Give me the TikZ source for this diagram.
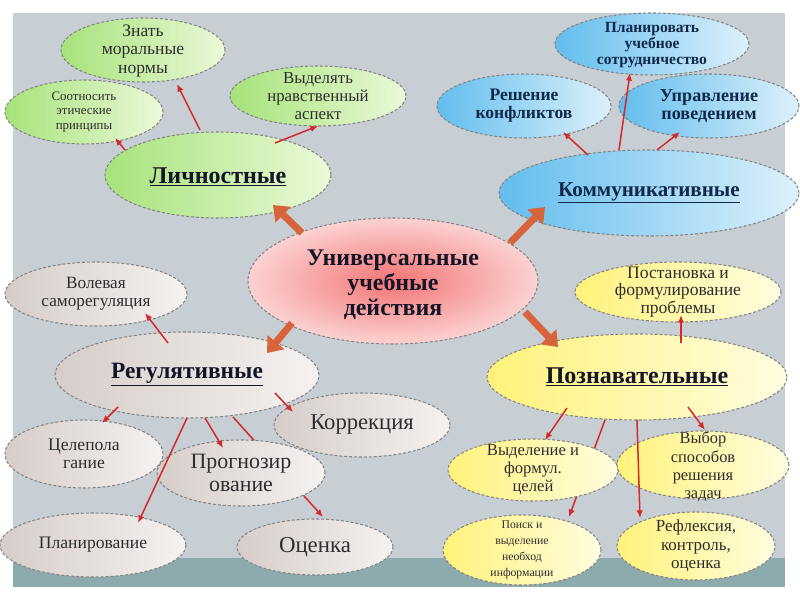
\documentclass[tikz,border=0pt]{standalone}
\usepackage{fontspec}
\setmainfont{Liberation Serif}
\usetikzlibrary{shapes.geometric,arrows.meta,calc}
\pgfdeclarelayer{bg}
\pgfdeclarelayer{behind}
\pgfsetlayers{bg,behind,main}
\definecolor{panel}{HTML}{C7CFD5}
\definecolor{strip}{HTML}{8DAAAD}
\definecolor{bord}{HTML}{858585}
\definecolor{gA}{HTML}{A6E37A}
\definecolor{gB}{HTML}{EBF9D8}
\definecolor{bA}{HTML}{62BDEE}
\definecolor{bB}{HTML}{DDF1FB}
\definecolor{rA}{HTML}{F27474}
\definecolor{rB}{HTML}{FCD2D2}
\definecolor{sA}{HTML}{D6CDC9}
\definecolor{sB}{HTML}{F5F2F0}
\definecolor{yA}{HTML}{FFF27A}
\definecolor{yB}{HTML}{FFFDE0}
\definecolor{redline}{HTML}{D42A2A}
\definecolor{thick}{HTML}{D8643C}
\definecolor{txgray}{HTML}{2E2E2E}
\definecolor{txdark}{HTML}{151528}
\definecolor{txblue}{HTML}{10294A}
\newcommand\fsz[2]{\fontsize{#1}{#2}\selectfont}
\begin{document}
\begin{tikzpicture}[x=0.03cm,y=-0.03cm,
  ell/.style n args={2}{ellipse, minimum width=#1*0.06cm, minimum height=#2*0.06cm,
     inner sep=0pt, draw=bord, dash pattern=on 2.6pt off 1.6pt, line width=0.9pt},
  gr/.style={left color=gA, right color=gB},
  bl/.style={left color=bA, right color=bB},
  rd/.style={inner color=rA, outer color=rB},
  gy/.style={left color=sA, right color=sB},
  yl/.style={left color=yA, right color=yB},
  txt/.style={align=center, inner sep=0pt, text=txgray},
  cat/.style={align=center, inner sep=0pt, text=txdark, font={\bfseries\fsz{20.5}{22}}},
  bt/.style={align=center, inner sep=0pt, text=txblue},
  rarr/.style={draw=redline, line width=1.3pt, -{Latex[length=6.5pt,width=5.5pt]}},
  tarr/.style={draw=thick, line width=6pt, -{Triangle[length=12pt,width=18pt]}}
]
\useasboundingbox (0,0) rectangle (800,600);
\begin{pgfonlayer}{bg}
  \fill[white] (0,0) rectangle (800,600);
  \fill[panel] (13,13) rectangle (785,587);
  \fill[strip] (13,558) rectangle (785,587);
\end{pgfonlayer}

% Личностные group
\node[ell={82}{32}, gr] (znat) at (143,50) {};
\node[txt, font={\fsz{15}{15.5}}] (znat-t) at ($(znat)+(0,1)$) {Знать\\моральные\\нормы};
\node[ell={79}{32}, gr] (soot) at (84,112) {};
\node[txt, font={\fsz{11}{12.5}}] (soot-t) at (soot) {Соотносить\\этические\\принципы};
\node[ell={88}{30}, gr] (vyd) at (318,96) {};
\node[txt, font={\fsz{14.4}{15.7}}] (vyd-t) at (vyd) {Выделять\\нравственный\\аспект};
\node[ell={113}{43}, gr] (lich) at (218,175) {};
\node[cat] (lich-t) at ($(lich)+(0,2)$) {\underline{Личностные}};

% Коммуникативные group
\node[ell={97}{31}, bl] (plan) at (652,44) {};
\node[bt, font={\bfseries\fsz{13.3}{14}}] (plan-t) at ($(plan)+(0,1)$) {Планировать\\учебное\\сотрудничество};
\node[ell={87}{32}, bl] (resh) at (524,106) {};
\node[bt, font={\bfseries\fsz{15}{15.5}}] (resh-t) at (resh) {Решение\\конфликтов};
\node[ell={90}{32}, bl] (upr) at (709,106) {};
\node[bt, font={\bfseries\fsz{15.5}{15.5}}] (upr-t) at (upr) {Управление\\поведением};
\node[ell={150}{43}, bl] (komm) at (649,193) {};
\node[cat, text=txblue, font={\bfseries\fsz{18}{20}}] (komm-t) at (komm) {\underline{Коммуникативные}};

% center
\node[ell={145}{63}, rd] (uud) at (393,281) {};
\node[cat, font={\bfseries\fsz{20.4}{21.5}}] (uud-t) at ($(uud)+(0,4)$) {Универсальные\\учебные\\действия};

% Регулятивные group
\node[ell={91}{32}, gy] (vol) at (96,294) {};
\node[txt, font={\fsz{14.7}{15.5}}] (vol-t) at (vol) {Волевая\\саморегуляция};
\node[ell={132}{43}, gy] (reg) at (187,375) {};
\node[cat, font={\bfseries\fsz{20}{22}}] (reg-t) at (reg) {\underline{Регулятивные}};
\node[ell={88}{32}, gy] (korr) at (362,425) {};
\node[txt, font={\fsz{19.3}{20}}] (korr-t) at (korr) {Коррекция};
\node[ell={79}{34}, gy] (cel) at (84,454) {};
\node[txt, font={\fsz{15}{15}}] (cel-t) at (cel) {Целепола\\гание};
\node[ell={84}{33}, gy] (prog) at (241,473) {};
\node[txt, font={\fsz{18.7}{19.5}}] (prog-t) at (prog) {Прогнозир\\ование};
\node[ell={93}{32}, gy] (planir) at (93,545) {};
\node[txt, font={\fsz{15}{16}}] (planir-t) at (planir) {Планирование};
\node[ell={78}{28}, gy] (oc) at (315,547) {};
\node[txt, font={\fsz{19.5}{20}}] (oc-t) at (oc) {Оценка};

% Познавательные group
\node[ell={103}{30}, yl] (post) at (678,292) {};
\node[txt, font={\fsz{15}{15}}] (post-t) at (post) {Постановка и\\формулирование\\проблемы};
\node[ell={150}{43}, yl] (pozn) at (637,377) {};
\node[cat] (pozn-t) at (pozn) {\underline{Познавательные}};
\node[ell={85}{31}, yl] (vydel) at (533,470) {};
\node[txt, font={\fsz{14.2}{15.5}}] (vydel-t) at (vydel) {Выделение и\\формул.\\целей};
\node[ell={86}{34}, yl] (vybor) at (703,465) {};
\node[txt, font={\fsz{14}{15.7}}] (vybor-t) at ($(vybor)+(0,2)$) {Выбор\\способов\\решения\\задач};
\node[ell={79}{35}, yl] (poisk) at (522,550) {};
\node[txt, font={\fsz{10}{13.6}}] (poisk-t) at (poisk) {Поиск и\\выделение\\необход\\информации};
\node[ell={79}{34}, yl] (refl) at (696,546) {};
\node[txt, font={\fsz{14.5}{15.7}}] (refl-t) at (refl) {Рефлексия,\\контроль,\\оценка};

% thick arrows
\draw[tarr] ($(uud)+(-91,-48)$) -- ($(lich)+(55,30)$);
\draw[tarr] ($(uud)+(117,-38)$) -- ($(komm)+(-104,14)$);
\draw[tarr] ($(uud)+(-101,42)$) -- ($(reg)+(80,-22)$);
\draw[tarr] ($(uud)+(132,31)$) -- ($(pozn)+(-79,-30)$);

% red arrows
\draw[rarr] ($(lich)+(-18,-45)$) -- ($(znat)+(34,34)$);
\draw[rarr] ($(lich)+(-93,-25)$) -- ($(soot)+(31,26)$);
\draw[rarr] ($(lich)+(57,-32)$) -- ($(vyd)+(0,30)$);
\draw[rarr] ($(komm)+(-61,-38)$) -- ($(resh)+(39,26)$);
\draw[rarr] ($(komm)+(-30,-43)$) -- ($(plan)+(-22,29)$);
\draw[rarr] ($(komm)+(8,-43)$) -- ($(upr)+(-29,26)$);
\draw[rarr] ($(reg)+(-19,-32)$) -- ($(vol)+(49,19)$);
\draw[rarr] ($(reg)+(-69,32)$) -- ($(cel)+(18,-31)$);
\draw[rarr] ($(reg)+(0,43)$) -- ($(planir)+(45,-22)$);
\draw[rarr] ($(reg)+(18,43)$) -- ($(prog)+(-18,-25)$);
\draw[rarr] ($(reg)+(88,18)$) -- ($(korr)+(-69,-13)$);
\begin{pgfonlayer}{behind}
\draw[rarr] ($(reg)+(46,42)$) -- ($(oc)+(8,-30)$);
\draw[rarr] ($(pozn)+(-32,43)$) -- ($(poisk)+(47,-33)$);
\end{pgfonlayer}
\draw[rarr] ($(pozn)+(44,-34)$) -- ($(post)+(3,23)$);
\draw[rarr] ($(pozn)+(-70,31)$) -- ($(vydel)+(12,-30)$);
\draw[rarr] ($(pozn)+(0,43)$) -- ($(refl)+(-56,-28)$);
\draw[rarr] ($(pozn)+(51,30)$) -- ($(vybor)+(2,-35)$);
\end{tikzpicture}
\end{document}
